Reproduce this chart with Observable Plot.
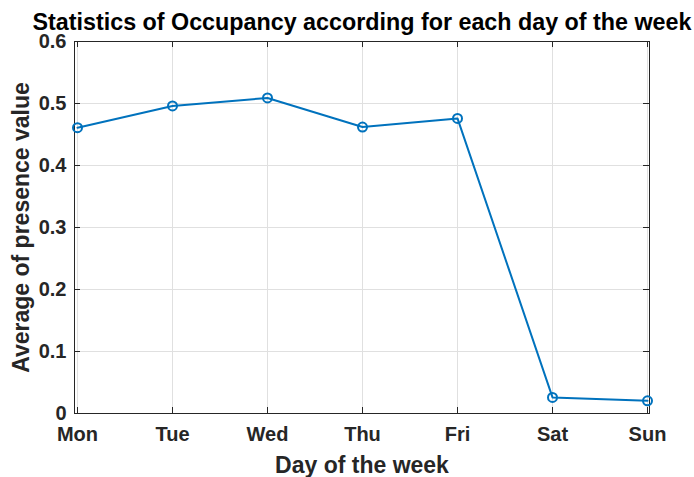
<!DOCTYPE html>
<html><head><meta charset="utf-8">
<script src="https://cdn.jsdelivr.net/npm/d3@7"></script>
<script src="https://cdn.jsdelivr.net/npm/@observablehq/plot@0.6"></script>
<style>
body{margin:0;background:#fff;}
svg{font-family:"Liberation Sans",Arial,sans-serif;}
</style></head>
<body><div id="chart"></div>
<script>
const days = ["Mon","Tue","Wed","Thu","Fri","Sat","Sun"];
const presence = [0.461, 0.496, 0.509, 0.462, 0.476, 0.026, 0.0205];
const yTicks = [0, 0.1, 0.2, 0.3, 0.4, 0.5, 0.6];
const yTickLabels = ["0","0.1","0.2","0.3","0.4","0.5","0.6"];
const titleText = "Statistics of Occupancy according for each day of the week";
const xLabel = "Day of the week";
const yLabel = "Average of presence value";

const data = days.map((d,i)=>({day:d, value:presence[i]}));
const axisColor = "#262626";
const gridColor = "#e0e0e0";
const lineColor = "#0072BD";
const W = 694, H = 477;
const mL = 74, mR = 45, mT = 41, mB = 64;
const plotH = H - mT - mB, plotW = W - mL - mR;

const chart = Plot.plot({
  width: W, height: H,
  marginLeft: mL, marginRight: mR, marginTop: mT, marginBottom: mB,
  style: {fontFamily: "'Liberation Sans', Arial, sans-serif", background: "#fff"},
  x: {type: "point", domain: days, padding: 0},
  y: {domain: [0, 0.6]},
  marks: [
    Plot.gridX(days, {stroke: gridColor, strokeOpacity: 1, strokeWidth: 1}),
    Plot.gridY(yTicks, {stroke: gridColor, strokeOpacity: 1, strokeWidth: 1}),
    // inward tick marks
    Plot.tickX(days, {x: d => d, stroke: axisColor, insetTop: plotH - 6}),
    Plot.tickX(days, {x: d => d, stroke: axisColor, insetBottom: plotH - 6}),
    Plot.tickY(yTicks, {y: d => d, stroke: axisColor, insetRight: plotW - 6}),
    Plot.tickY(yTicks, {y: d => d, stroke: axisColor, insetLeft: plotW - 6}),
    Plot.frame({stroke: axisColor, strokeWidth: 1}),
    Plot.axisX(days, {tickSize: 0, tickPadding: 0, dy: 13, fontSize: 20, fontWeight: "bold", fill: axisColor, label: null, textAnchor: "middle"}),
    Plot.axisY(yTicks, {tickSize: 0, tickPadding: 8, fontSize: 20, fontWeight: "bold", fill: axisColor, label: null, tickFormat: (d,i) => yTickLabels[i]}),
    Plot.line(data, {x: "day", y: "value", stroke: lineColor, strokeWidth: 2}),
    Plot.dot(data, {x: "day", y: "value", r: 4.5, stroke: lineColor, strokeWidth: 2, fill: "none"}),
    Plot.text([titleText], {frameAnchor: "top", dy: -12, lineAnchor: "bottom", textAnchor: "middle", fontSize: 23.3, fontWeight: "bold", fill: "#000"}),
    Plot.text([xLabel], {frameAnchor: "bottom", dy: 59, lineAnchor: "bottom", textAnchor: "middle", fontSize: 23, fontWeight: "bold", fill: axisColor}),
    Plot.text([yLabel], {frameAnchor: "left", dx: -53, rotate: -90, lineAnchor: "middle", textAnchor: "middle", fontSize: 23, fontWeight: "bold", fill: axisColor})
  ]
});
document.getElementById("chart").appendChild(chart);
</script></body></html>
